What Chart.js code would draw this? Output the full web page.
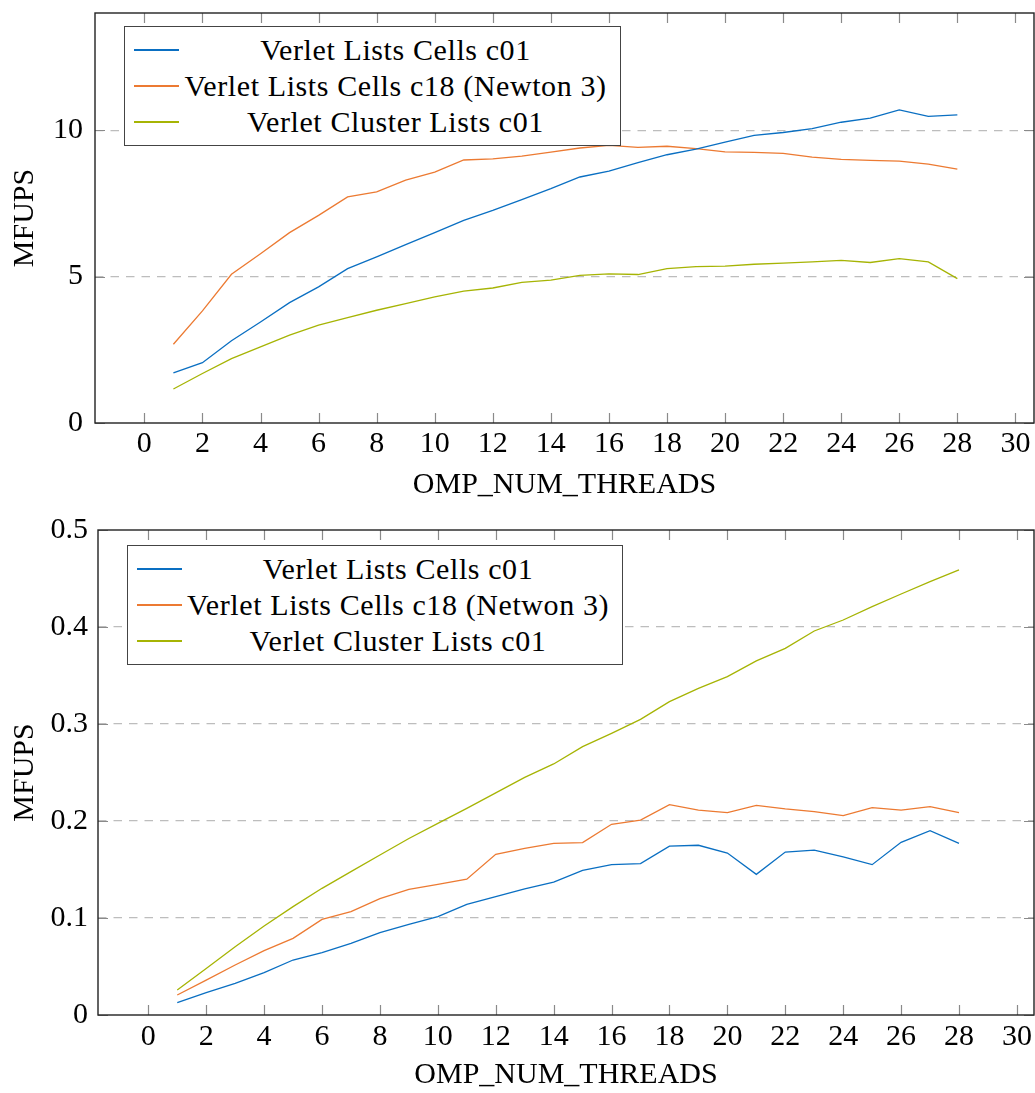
<!DOCTYPE html>
<html>
<head>
<meta charset="utf-8">
<script src="https://cdn.jsdelivr.net/npm/chart.js@4.4.0/dist/chart.umd.min.js"></script>
<style>
  body { margin: 0; background: #fff; width: 1035px; height: 1093px; overflow: hidden; position: relative; font-family: "Liberation Serif", serif; }
  canvas { position: absolute; left: 0; }
  .legend { position: absolute; box-sizing: border-box; border: 1px solid #444; background: #fff; padding-top: 5px; font-size: 30px; color: #000; }
  .legend .row { display: flex; align-items: center; height: 36px; }
  .legend .swatch { width: 45px; height: 1.5px; margin-left: 9px; }
  .legend .txt { flex: 1; text-align: center; margin-left: 2px; margin-right: 10px; white-space: nowrap; line-height: 36px; letter-spacing: 0.6px; }
</style>
</head>
<body>
<canvas id="top" width="1035" height="505" style="top:0"></canvas>
<canvas id="bottom" width="1035" height="576" style="top:517px"></canvas>
<div class="legend" id="legTop" style="left:124px;top:26px;width:497px;height:120px"></div>
<div class="legend" id="legBottom" style="left:127px;top:545px;width:496px;height:120px"></div>
<script>
// x values (threads)
const threads = [1, 2, 3, 4, 5, 6, 7, 8, 9, 10, 11, 12, 13, 14, 15, 16, 17, 18, 19, 20, 21, 22, 23, 24, 25, 26, 27, 28];
const xTicks = [0, 2, 4, 6, 8, 10, 12, 14, 16, 18, 20, 22, 24, 26, 28, 30];

// top plot
const topLabels = ['Verlet Lists Cells c01', 'Verlet Lists Cells c18 (Newton 3)', 'Verlet Cluster Lists c01'];
const topC01 = [1.71, 2.06, 2.81, 3.45, 4.11, 4.65, 5.27, 5.67, 6.09, 6.50, 6.92, 7.26, 7.63, 8.00, 8.40, 8.60, 8.89, 9.16, 9.35, 9.59, 9.82, 9.92, 10.05, 10.27, 10.41, 10.69, 10.47, 10.52];
const topC18 = [2.69, 3.83, 5.08, 5.78, 6.50, 7.09, 7.72, 7.89, 8.29, 8.57, 8.98, 9.02, 9.11, 9.25, 9.39, 9.48, 9.41, 9.45, 9.37, 9.26, 9.24, 9.21, 9.08, 9.00, 8.97, 8.94, 8.84, 8.67];
const topCluster = [1.16, 1.69, 2.20, 2.60, 3.00, 3.34, 3.60, 3.85, 4.08, 4.31, 4.50, 4.61, 4.80, 4.88, 5.04, 5.09, 5.07, 5.27, 5.34, 5.36, 5.42, 5.46, 5.50, 5.55, 5.48, 5.61, 5.50, 4.93];
const topYTicks = [0, 5, 10];

// bottom plot
const bottomLabels = ['Verlet Lists Cells c01', 'Verlet Lists Cells c18 (Netwon 3)', 'Verlet Cluster Lists c01'];
const botC01 = [0.0127, 0.023, 0.0326, 0.0436, 0.0567, 0.0643, 0.0739, 0.0849, 0.0935, 0.1014, 0.114, 0.122, 0.130, 0.137, 0.149, 0.155, 0.156, 0.174, 0.175, 0.167, 0.145, 0.168, 0.170, 0.163, 0.155, 0.178, 0.190, 0.177];
const botC18 = [0.0206, 0.036, 0.0515, 0.0663, 0.079, 0.0986, 0.1065, 0.120, 0.1296, 0.1347, 0.140, 0.1656, 0.1718, 0.177, 0.1777, 0.1966, 0.201, 0.2168, 0.2113, 0.2086, 0.2162, 0.2124, 0.2096, 0.2055, 0.2137, 0.2113, 0.2148, 0.2086];
const botCluster = [0.0258, 0.048, 0.0704, 0.0918, 0.1117, 0.1306, 0.1478, 0.165, 0.182, 0.1976, 0.213, 0.229, 0.245, 0.2588, 0.2766, 0.2904, 0.3048, 0.323, 0.3368, 0.3488, 0.365, 0.378, 0.3959, 0.4072, 0.421, 0.434, 0.4467, 0.4588];
const bottomYTicks = [0, 0.1, 0.2, 0.3, 0.4, 0.5];

const colors = ['#0a6fc2', '#ec7a32', '#a6b404'];

Chart.defaults.font.family = '"Liberation Serif", serif';
Chart.defaults.font.size = 30;
Chart.defaults.color = '#000';

// box around the plot and inward tick marks like pgfplots
const framePlugin = {
  id: 'frame',
  afterDraw(chart) {
    const ctx = chart.ctx;
    const a = chart.chartArea;
    const xs = chart.scales.x, ys = chart.scales.y;
    ctx.save();
    ctx.strokeStyle = '#8a8a8a';
    ctx.lineWidth = 1.2;
    ctx.beginPath();
    xs.ticks.forEach(t => {
      const px = Math.round(xs.getPixelForValue(t.value)) + 0.5;
      ctx.moveTo(px, a.bottom); ctx.lineTo(px, a.bottom - 10);
      ctx.moveTo(px, a.top); ctx.lineTo(px, a.top + 10);
    });
    ys.ticks.forEach(t => {
      const py = Math.round(ys.getPixelForValue(t.value)) + 0.5;
      ctx.moveTo(a.left, py); ctx.lineTo(a.left + 10, py);
      ctx.moveTo(a.right, py); ctx.lineTo(a.right - 10, py);
    });
    ctx.stroke();
    ctx.strokeStyle = '#222';
    ctx.lineWidth = 1.4;
    ctx.strokeRect(a.left, a.top, a.right - a.left, a.bottom - a.top);
    ctx.restore();
  }
};

function makeChart(id, opts) {
  const datasets = opts.series.map((vals, i) => ({
    label: opts.labels[i],
    data: threads.map((t, k) => ({ x: t, y: vals[k] })),
    borderColor: colors[i],
    borderWidth: 1.3,
    pointRadius: 0,
    tension: 0,
    fill: false
  }));

  new Chart(document.getElementById(id), {
    type: 'line',
    data: { datasets: datasets },
    options: {
      responsive: false,
      animation: false,
      events: [],
      layout: { padding: { top: 13, right: 1, left: 0, bottom: 0 } },
      plugins: { legend: { display: false }, tooltip: { enabled: false } },
      scales: {
        x: {
          type: 'linear',
          min: opts.xMin,
          max: opts.xMax,
          afterBuildTicks: s => { s.ticks = xTicks.map(v => ({ value: v })); },
          afterFit: s => { s.height = opts.xHeight; s.paddingLeft = 0; s.paddingRight = 0; },
          grid: { display: false, drawTicks: false },
          border: { display: false },
          ticks: { padding: opts.xPad, maxRotation: 0, autoSkip: false },
          title: { display: true, text: 'OMP_NUM_THREADS', padding: { top: 0, bottom: opts.titlePad } }
        },
        y: {
          min: 0,
          max: opts.yMax,
          afterBuildTicks: s => { s.ticks = opts.yTicks.map(v => ({ value: v })); },
          afterFit: s => { s.width = opts.yWidth; s.paddingTop = 0; s.paddingBottom = 0; },
          grid: {
            drawTicks: false,
            color: c => (c.tick && c.tick.value > 0 && c.tick.value < opts.yMax) ? '#bdbdbd' : 'rgba(0,0,0,0)',
            lineWidth: 1.2
          },
          border: { display: false, dash: [8.5, 7] },
          ticks: { padding: opts.yPad, autoSkip: false },
          title: { display: true, text: 'MFUPS', padding: { top: 7, bottom: 0 } }
        }
      }
    },
    plugins: [framePlugin]
  });

  // legend drawn as html
  const leg = document.getElementById(opts.legend);
  opts.labels.forEach((lab, i) => {
    const row = document.createElement('div');
    row.className = 'row';
    const sw = document.createElement('div');
    sw.className = 'swatch';
    sw.style.background = colors[i];
    const tx = document.createElement('span');
    tx.className = 'txt';
    tx.textContent = lab;
    row.appendChild(sw);
    row.appendChild(tx);
    leg.appendChild(row);
  });
}

makeChart('top', {
  series: [topC01, topC18, topCluster],
  labels: topLabels,
  legend: 'legTop',
  xMin: -1.70, xMax: 30.64,
  yMax: 14, yTicks: topYTicks,
  xHeight: 82, yWidth: 95,
  xPad: 3, yPad: 12, titlePad: 2
});

makeChart('bottom', {
  series: [botC01, botC18, botCluster],
  labels: bottomLabels,
  legend: 'legBottom',
  xMin: -1.737, xMax: 30.59,
  yMax: 0.5, yTicks: bottomYTicks,
  xHeight: 78, yWidth: 98,
  xPad: 4, yPad: 10, titlePad: 0
});
</script>
</body>
</html>
